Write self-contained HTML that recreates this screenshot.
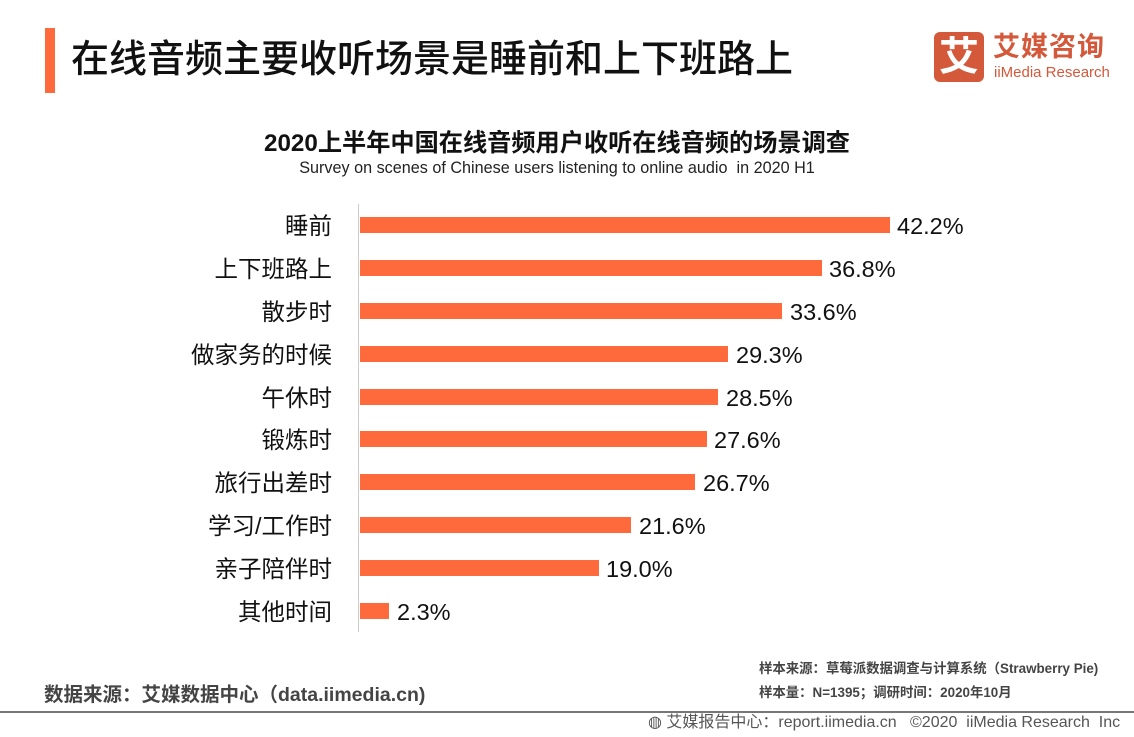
<!DOCTYPE html>
<html><head><meta charset="utf-8"><style>
body{margin:0;width:1134px;height:737px;background:#fff;position:relative;overflow:hidden;font-family:"Liberation Sans","Noto Sans CJK SC",sans-serif;color:#111}
.a{position:absolute;white-space:nowrap}
.lab{position:absolute;right:802px;font-size:23.5px;line-height:26px;text-align:right}
.bar{position:absolute;left:360px;height:16px;background:#ff6a3d}
.val{position:absolute;font-size:23.5px;line-height:26px}
</style></head><body>
<div class="a" style="left:45px;top:28px;width:10px;height:65px;background:#ff6a3d"></div>
<div class="a" style="left:71px;top:35px;font-size:38px;line-height:50px;font-weight:500">在线音频主要收听场景是睡前和上下班路上</div>
<div class="a" style="left:934px;top:32px;width:50px;height:50px;background:#d4583a;border-radius:6px;color:#fff;font-size:40px;line-height:50px;text-align:center;font-weight:bold">艾</div>
<div class="a" style="left:993px;top:30px;font-size:27px;line-height:34px;color:#d4583a;font-weight:bold;letter-spacing:1px">艾媒咨询</div>
<div class="a" style="left:994px;top:64px;font-size:15px;line-height:18px;color:#d4583a">iiMedia Research</div>
<div class="a" style="left:0;width:1114px;top:129px;text-align:center;font-size:24.2px;line-height:30px;font-weight:bold">2020上半年中国在线音频用户收听在线音频的场景调查</div>
<div class="a" style="left:0;width:1114px;top:158px;text-align:center;font-size:16.2px;line-height:20px;color:#222">Survey on scenes of Chinese users listening to online audio &nbsp;in 2020 H1</div>
<div class="a" style="left:358px;top:204px;width:1px;height:428px;background:#ccc"></div>

<div class="lab" style="top:213px">睡前</div><div class="bar" style="top:217px;width:530px"></div><div class="val" style="top:213px;left:897px">42.2%</div>
<div class="lab" style="top:256px">上下班路上</div><div class="bar" style="top:260px;width:462px"></div><div class="val" style="top:256px;left:829px">36.8%</div>
<div class="lab" style="top:299px">散步时</div><div class="bar" style="top:303px;width:422px"></div><div class="val" style="top:299px;left:790px">33.6%</div>
<div class="lab" style="top:342px">做家务的时候</div><div class="bar" style="top:346px;width:368px"></div><div class="val" style="top:342px;left:736px">29.3%</div>
<div class="lab" style="top:385px">午休时</div><div class="bar" style="top:389px;width:358px"></div><div class="val" style="top:385px;left:726px">28.5%</div>
<div class="lab" style="top:427px">锻炼时</div><div class="bar" style="top:431px;width:347px"></div><div class="val" style="top:427px;left:714px">27.6%</div>
<div class="lab" style="top:470px">旅行出差时</div><div class="bar" style="top:474px;width:335px"></div><div class="val" style="top:470px;left:703px">26.7%</div>
<div class="lab" style="top:513px">学习/工作时</div><div class="bar" style="top:517px;width:271px"></div><div class="val" style="top:513px;left:639px">21.6%</div>
<div class="lab" style="top:556px">亲子陪伴时</div><div class="bar" style="top:560px;width:239px"></div><div class="val" style="top:556px;left:606px">19.0%</div>
<div class="lab" style="top:599px">其他时间</div><div class="bar" style="top:603px;width:29px"></div><div class="val" style="top:599px;left:397px">2.3%</div>

<div class="a" style="left:759px;top:660px;font-size:13.4px;line-height:18px;font-weight:bold;color:#444">样本来源：草莓派数据调查与计算系统（Strawberry Pie)</div>
<div class="a" style="left:759px;top:684px;font-size:13.4px;line-height:18px;font-weight:bold;color:#444">样本量：N=1395；调研时间：2020年10月</div>
<div class="a" style="left:44px;top:683px;font-size:19.5px;line-height:24px;font-weight:bold;color:#444">数据来源：艾媒数据中心（data.iimedia.cn)</div>
<div class="a" style="left:0;top:711px;width:1134px;height:2px;background:#777"></div>
<div class="a" style="left:648px;top:712px;font-size:16px;line-height:22px;color:#555">◍ 艾媒报告中心：report.iimedia.cn &nbsp;&nbsp;©2020 &nbsp;iiMedia Research &nbsp;Inc</div>
</body></html>
